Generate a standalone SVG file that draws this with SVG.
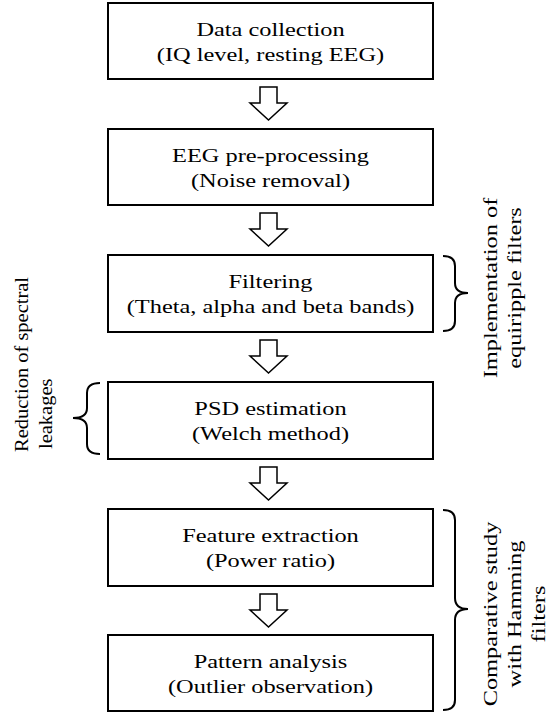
<svg xmlns="http://www.w3.org/2000/svg" width="558" height="716" viewBox="0 0 558 716">
<style>
.box{fill:#fff;stroke:#000;stroke-width:2}
.arr{fill:#fff;stroke:#000;stroke-width:1.5;stroke-linejoin:miter}
.brace{fill:none;stroke:#000;stroke-width:2}
text{font-family:"Liberation Serif","Times New Roman",serif;font-size:19.5px;fill:#000;text-anchor:middle}
.start{text-anchor:start}
</style>
<rect width="558" height="716" fill="#fff"/>
<g id="n1"><rect class="box" x="108" y="3" width="325" height="76"/>
<text transform="translate(270.5,36) scale(1.25,1)">Data collection</text>
<text transform="translate(270.5,60.5) scale(1.25,1)">(IQ level, resting EEG)</text></g>
<g id="n2"><rect class="box" x="108" y="129" width="325" height="76"/>
<text transform="translate(270.5,162) scale(1.25,1)">EEG pre-processing</text>
<text transform="translate(270.5,186.5) scale(1.25,1)">(Noise removal)</text></g>
<g id="n3"><rect class="box" x="108" y="255" width="325" height="77"/>
<text transform="translate(270.5,288) scale(1.25,1)">Filtering</text>
<text transform="translate(270.5,312.5) scale(1.25,1)">(Theta, alpha and beta bands)</text></g>
<g id="n4"><rect class="box" x="108" y="382" width="325" height="77"/>
<text transform="translate(270.5,415) scale(1.25,1)">PSD estimation</text>
<text transform="translate(270.5,439.5) scale(1.25,1)">(Welch method)</text></g>
<g id="n5"><rect class="box" x="108" y="509" width="325" height="77"/>
<text transform="translate(270.5,542) scale(1.25,1)">Feature extraction</text>
<text transform="translate(270.5,566.5) scale(1.25,1)">(Power ratio)</text></g>
<g id="n6"><rect class="box" x="108" y="635" width="325" height="76"/>
<text transform="translate(270.5,668) scale(1.25,1)">Pattern analysis</text>
<text transform="translate(270.5,692.5) scale(1.25,1)">(Outlier observation)</text></g>
<g id="connectors">
<path class="arr" d="M260,87 H277 V103 H287 L268.5,120 L250,103 H260 Z"/>
<path class="arr" d="M260,213 H277 V229 H287 L268.5,246 L250,229 H260 Z"/>
<path class="arr" d="M260,340 H277 V356 H287 L268.5,373 L250,356 H260 Z"/>
<path class="arr" d="M260,467 H277 V483 H287 L268.5,500 L250,483 H260 Z"/>
<path class="arr" d="M260,594 H277 V610 H287 L268.5,627 L250,610 H260 Z"/>
</g>
<g id="brace1">
<path class="brace" d="M443,256 Q455,256 455,266 L455,283 Q455,293 468,293 Q455,293 455,303 L455,321 Q455,331 443,331"/>
<text transform="translate(497,288) rotate(-90) scale(1.25,1)">Implementation of</text>
<text transform="translate(521,288) rotate(-90) scale(1.25,1)">equiripple filters</text>
</g>
<g id="brace2">
<path class="brace" d="M100,383 Q87,383 87,393 L87,408 Q87,418 73,418 Q87,418 87,428 L87,444 Q87,454 100,454"/>
<text class="start" transform="translate(28,452) rotate(-90) scale(1.05,1)">Reduction of spectral</text>
<text class="start" transform="translate(52,449) rotate(-90) scale(1.05,1)">leakages</text>
</g>
<g id="brace3">
<path class="brace" d="M443,510 Q455,510 455,520 L455,598 Q455,609 468,609 Q455,609 455,620 L455,700 Q455,710 443,710"/>
<text transform="translate(497,614) rotate(-90) scale(1.25,1)">Comparative study</text>
<text transform="translate(521,614) rotate(-90) scale(1.25,1)">with Hamming</text>
<text transform="translate(545,614) rotate(-90) scale(1.25,1)">filters</text>
</g>
</svg>
